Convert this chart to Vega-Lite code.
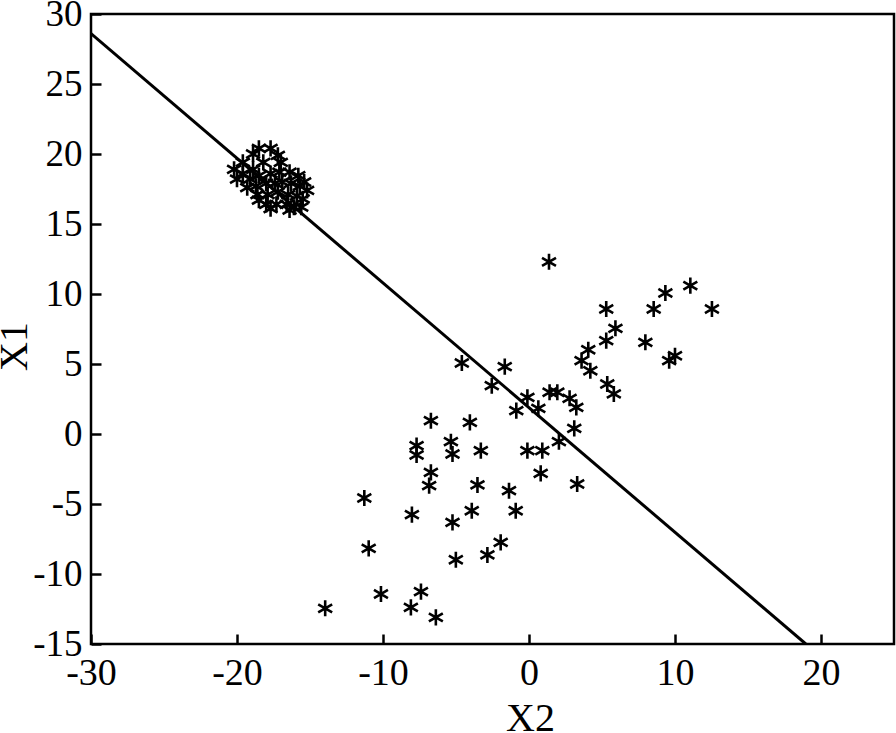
{
  "$schema": "https://vega.github.io/schema/vega-lite/v6.json",
  "width": 803,
  "height": 630,
  "autosize": {"type": "none"},
  "padding": {"left": 91, "top": 14, "right": 2, "bottom": 89},
  "background": "white",
  "config": {
    "view": {"stroke": "black", "strokeWidth": 2.5},
    "font": "Liberation Serif",
    "axis": {
      "grid": false,
      "domain": false,
      "labelColor": "black",
      "titleColor": "black",
      "labelFlush": false,
      "labelOverlap": false,
      "labelFont": "Liberation Serif",
      "titleFont": "Liberation Serif",
      "titleFontWeight": "normal"
    }
  },
  "datasets": {
    "pts": [
      {"X2": -20.2, "X1": 18.9}, {"X2": -19.6, "X1": 19.4}, {"X2": -18.9, "X1": 20.0}, {"X2": -18.5, "X1": 20.4},
      {"X2": -17.7, "X1": 20.4}, {"X2": -17.2, "X1": 19.9}, {"X2": -17.0, "X1": 19.4}, {"X2": -18.2, "X1": 19.4},
      {"X2": -18.9, "X1": 18.9}, {"X2": -19.6, "X1": 18.6}, {"X2": -20.0, "X1": 18.2}, {"X2": -19.1, "X1": 18.2},
      {"X2": -18.5, "X1": 18.45}, {"X2": -17.7, "X1": 18.6}, {"X2": -17.1, "X1": 18.7}, {"X2": -16.4, "X1": 18.7},
      {"X2": -15.8, "X1": 18.45}, {"X2": -15.4, "X1": 18.0}, {"X2": -15.2, "X1": 17.4}, {"X2": -15.7, "X1": 17.7},
      {"X2": -16.3, "X1": 17.9}, {"X2": -16.9, "X1": 18.0}, {"X2": -17.4, "X1": 17.9}, {"X2": -18.0, "X1": 17.9},
      {"X2": -18.7, "X1": 17.7}, {"X2": -19.3, "X1": 17.6}, {"X2": -18.6, "X1": 17.1}, {"X2": -17.9, "X1": 17.1},
      {"X2": -17.2, "X1": 17.3}, {"X2": -16.5, "X1": 17.1}, {"X2": -15.9, "X1": 17.0}, {"X2": -15.5, "X1": 16.8},
      {"X2": -18.0, "X1": 16.4}, {"X2": -17.3, "X1": 16.4}, {"X2": -16.6, "X1": 16.4}, {"X2": -16.1, "X1": 16.2},
      {"X2": -18.5, "X1": 16.7}, {"X2": -16.4, "X1": 16.0}, {"X2": -15.6, "X1": 16.2}, {"X2": -17.7, "X1": 16.1},
      {"X2": 1.37, "X1": 12.3}, {"X2": 11.05, "X1": 10.6}, {"X2": 9.34, "X1": 10.07}, {"X2": 5.29, "X1": 8.93},
      {"X2": 8.54, "X1": 8.93}, {"X2": 12.53, "X1": 8.93}, {"X2": 5.92, "X1": 7.55}, {"X2": 5.29, "X1": 6.67},
      {"X2": 7.97, "X1": 6.55}, {"X2": 4.06, "X1": 6.02}, {"X2": 3.6, "X1": 5.24}, {"X2": 10.0, "X1": 5.59},
      {"X2": 9.6, "X1": 5.24}, {"X2": 4.2, "X1": 4.52}, {"X2": -4.6, "X1": 5.07}, {"X2": -1.66, "X1": 4.81},
      {"X2": -2.55, "X1": 3.45}, {"X2": 5.36, "X1": 3.57}, {"X2": 5.81, "X1": 2.86}, {"X2": 1.41, "X1": 2.98},
      {"X2": 1.94, "X1": 2.98}, {"X2": 2.78, "X1": 2.55}, {"X2": 3.24, "X1": 1.9}, {"X2": -0.11, "X1": 2.62},
      {"X2": 0.64, "X1": 1.83}, {"X2": -0.87, "X1": 1.67}, {"X2": 3.1, "X1": 0.4}, {"X2": -6.72, "X1": 0.95},
      {"X2": -4.05, "X1": 0.83}, {"X2": 2.05, "X1": -0.55}, {"X2": -7.7, "X1": -0.83}, {"X2": -7.7, "X1": -1.5},
      {"X2": -5.35, "X1": -0.55}, {"X2": -5.24, "X1": -1.43}, {"X2": -3.3, "X1": -1.19}, {"X2": -0.11, "X1": -1.19},
      {"X2": 0.91, "X1": -1.19}, {"X2": -6.72, "X1": -2.74}, {"X2": -6.84, "X1": -3.69}, {"X2": 0.8, "X1": -2.81},
      {"X2": 3.3, "X1": -3.57}, {"X2": -3.53, "X1": -3.64}, {"X2": -1.37, "X1": -4.05}, {"X2": -11.28, "X1": -4.57},
      {"X2": -0.91, "X1": -5.48}, {"X2": -3.92, "X1": -5.48}, {"X2": -8.02, "X1": -5.76}, {"X2": -5.24, "X1": -6.31},
      {"X2": -1.94, "X1": -7.74}, {"X2": -2.85, "X1": -8.64}, {"X2": -5.01, "X1": -8.98}, {"X2": -10.98, "X1": -8.17},
      {"X2": -10.14, "X1": -11.43}, {"X2": -7.4, "X1": -11.26}, {"X2": -8.09, "X1": -12.38}, {"X2": -6.38, "X1": -13.1},
      {"X2": -13.96, "X1": -12.45}
    ],
    "line": [
      {"X2": -30, "X1": 28.6},
      {"X2": 18.96, "X1": -15}
    ]
  },
  "encoding": {
    "x": {
      "field": "X2", "type": "quantitative",
      "scale": {"domain": [-30, 25], "nice": false, "zero": false},
      "axis": {"title": "X2", "values": [-30, -20, -10, 0, 10, 20], "ticks": true, "tickColor": "black", "tickWidth": 2.5, "tickSize": -10, "labelExpr": "'' + datum.value", "labelFontSize": 38, "titleFontSize": 40, "labelPadding": 20, "titleX": 439, "titleY": 86, "titleBaseline": "alphabetic"}
    },
    "y": {
      "field": "X1", "type": "quantitative",
      "scale": {"domain": [-15, 30], "nice": false, "zero": false},
      "axis": {"title": "X1", "values": [-15, -10, -5, 0, 5, 10, 15, 20, 25, 30], "ticks": true, "tickColor": "black", "tickWidth": 2.5, "tickSize": -10, "labelExpr": "'' + datum.value", "labelFontSize": 37, "titleFontSize": 40, "labelPadding": 19, "titleX": -77, "titleY": 332, "titleBaseline": "middle"}
    }
  },
  "layer": [
    {
      "data": {"name": "line"},
      "mark": {"type": "line", "color": "black", "strokeWidth": 3, "clip": true}
    },
    {
      "data": {"name": "pts"},
      "mark": {
        "type": "point",
        "shape": "M0,-1L0,1M-0.866,-0.5L0.866,0.5M-0.866,0.5L0.866,-0.5",
        "filled": false,
        "stroke": "black",
        "strokeWidth": 2.6,
        "size": 260,
        "opacity": 1
      }
    }
  ]
}
